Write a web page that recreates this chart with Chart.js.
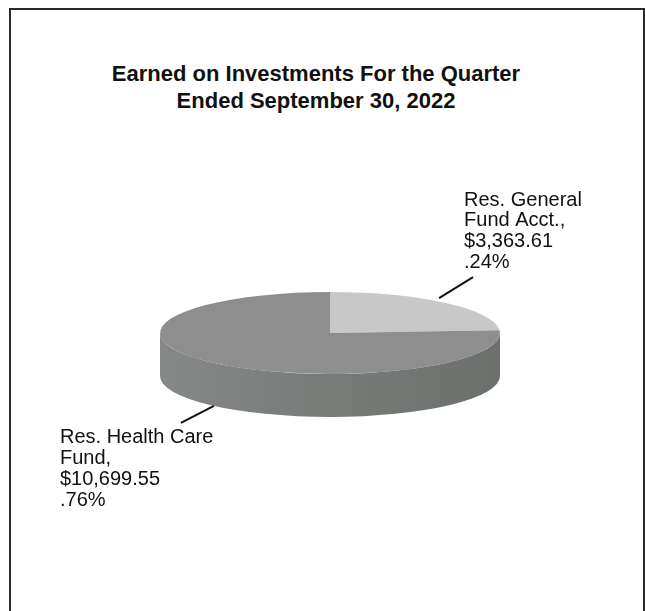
<!DOCTYPE html>
<html>
<head>
<meta charset="utf-8">
<script src="https://cdn.jsdelivr.net/npm/chart.js@4.4.0/dist/chart.umd.min.js"></script>
<style>
    html, body { margin: 0; padding: 0; background: #fff; width: 645px; height: 611px; overflow: hidden; }
    #frame { position: absolute; left: 9px; top: 8px; width: 632px; height: 640px; border: 2px solid #2a2a2a; border-bottom: none; }
    #title { position: absolute; left: 0; top: 60px; width: 632px; text-align: center; color: #111;
             font: bold 22px "Liberation Sans", Arial, sans-serif; line-height: 27px; }
    canvas { position: absolute; left: 0; top: 0; }
</style>
</head>
<body>
<div id="frame"></div>
<div id="title">Earned on Investments For the Quarter<br>Ended September 30, 2022</div>
<canvas id="chart" width="645" height="611"></canvas>
<script>
// --- Data ---
const categories = [['Res. General', 'Fund Acct.,'], ['Res. Health Care', 'Fund,']];
const amounts = [3363.61, 10699.55];
const amountLabels = ['$3,363.61', '$10,699.55'];
const percentLabels = ['.24%', '.76%'];

// --- Styles ---
const topColors = ['#c8c8c8', '#8e8e8e'];
const sideColors = [['#9a9a9a', '#8a8a8a'], ['#858886', '#6b706c']];
const TILT = 0.241;   // vertical squash of the pie
const DEPTH = 43;     // thickness of the 3d side
// leader line (from / to) and first text line, relative to the slice anchor
const labelStyle = [
    { from: [-7, -5], to: [27, -26], text: [18, -103] },
    { from: [0, 0], to: [-33, 17], text: [-154, 32] }
];

const pie3d = {
    id: 'pie3d',
    beforeDatasetsDraw(chart) {
        const ctx = chart.ctx;
        const arcs = chart.getDatasetMeta(0).data;
        const { x, y, outerRadius: r } = arcs[0];
        const ry = r * TILT;
        // draw the visible front side of each slice
        arcs.forEach((arc, i) => {
            const a = Math.max(arc.startAngle, 0);
            const b = Math.min(arc.endAngle, Math.PI);
            if (b <= a) return;
            const g = ctx.createLinearGradient(x - r, 0, x + r, 0);
            g.addColorStop(0, sideColors[i][0]);
            g.addColorStop(1, sideColors[i][1]);
            ctx.beginPath();
            ctx.ellipse(x, y, r, ry, 0, a, b);
            ctx.ellipse(x, y + DEPTH, r, ry, 0, b, a, true);
            ctx.closePath();
            ctx.fillStyle = g;
            ctx.fill();
        });
        // squash the top face
        ctx.save();
        ctx.translate(x, y);
        ctx.scale(1, TILT);
        ctx.translate(-x, -y);
    },
    afterDatasetsDraw(chart) {
        const ctx = chart.ctx;
        ctx.restore();
        const arcs = chart.getDatasetMeta(0).data;
        arcs.forEach((arc, i) => {
            const { x, y, outerRadius: r } = arc;
            const mid = (arc.startAngle + arc.endAngle) / 2;
            const ax = x + r * Math.cos(mid);
            const ay = y + r * TILT * Math.sin(mid) + (Math.sin(mid) > 0 ? DEPTH : 0);
            const st = labelStyle[i];
            ctx.save();
            ctx.strokeStyle = '#111';
            ctx.lineWidth = 2;
            ctx.beginPath();
            ctx.moveTo(ax + st.from[0], ay + st.from[1]);
            ctx.lineTo(ax + st.to[0], ay + st.to[1]);
            ctx.stroke();
            ctx.fillStyle = '#111';
            ctx.font = '20px "Liberation Sans", Arial, sans-serif';
            ctx.textAlign = 'left';
            ctx.textBaseline = 'middle';
            const lines = [...categories[i], amountLabels[i], percentLabels[i]];
            lines.forEach((t, k) => {
                ctx.fillText(t, ax + st.text[0], ay + st.text[1] + k * 20.7);
            });
            ctx.restore();
        });
    }
};

const chart = new Chart(document.getElementById('chart'), {
    type: 'pie',
    data: {
        labels: categories.map(c => c.join(' ')),
        datasets: [{
            data: amounts,
            backgroundColor: topColors,
            borderWidth: 0,
            hoverOffset: 0
        }]
    },
    options: {
        responsive: false,
        animation: false,
        events: [],
        layout: { padding: { left: 160, right: 145, top: 163, bottom: 108 } },
        plugins: {
            legend: { display: false },
            tooltip: { enabled: false },
            title: { display: false }
        }
    },
    plugins: [pie3d]
});
</script>
</body>
</html>
